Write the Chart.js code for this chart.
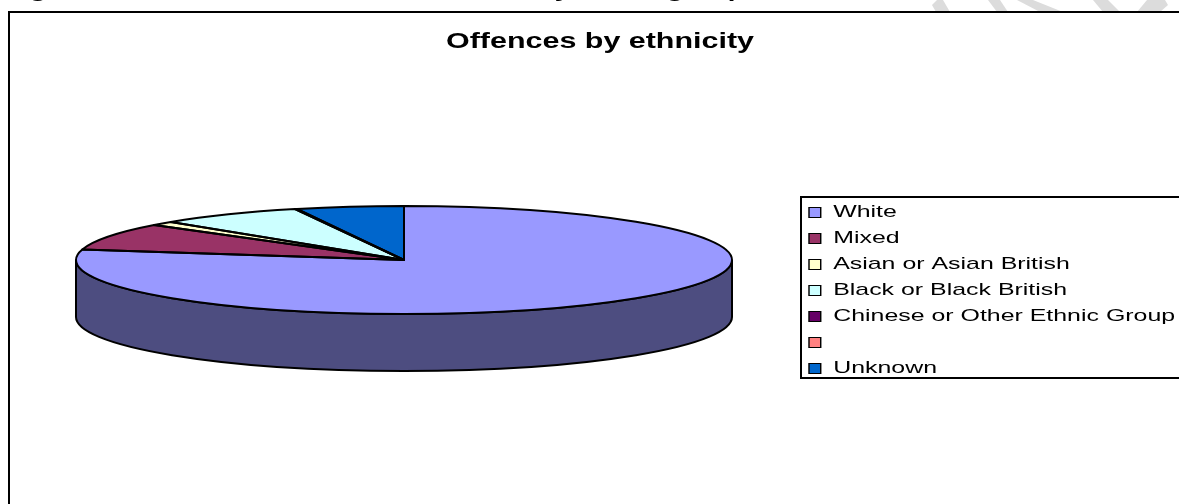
<!DOCTYPE html>
<html>
<head>
<meta charset="utf-8">
<title>Offences by ethnicity</title>
<script src="https://cdn.jsdelivr.net/npm/chart.js@4/dist/chart.umd.min.js"></script>
<style>
    html, body { margin:0; padding:0; background:#fff; overflow:hidden; }
    canvas { display:block; }
</style>
</head>
<body>
<canvas id="ethnicity_chart" width="1179" height="504"></canvas>
<script>
const labels = ["White", "Mixed", "Asian or Asian British", "Black or Black British", "Chinese or Other Ethnic Group", "", "Unknown"];
const offences = [78.2, 8.1, 1.2, 7.2, 0.1, 0, 5.3];
const colours = ["#9999FF", "#993366", "#FFFFCC", "#CCFFFF", "#660066", "#FF8080", "#0066CC"];

// the original is a stretched 3D pie, so the flat arcs get squashed to this ellipse
const pieX = 404, pieY = 260, pieRx = 328, pieRy = 54, pieDepth = 57;

// grey bits of a watermark showing above the frame
const watermark = [
    [[932,5],[937,0],[943,0],[950,12],[936,12]],
    [[988,0],[1000,0],[1008,12],[997,12]],
    [[1017,0],[1033,0],[1063,12],[1040,12]],
    [[1093,0],[1108,0],[1120,12],[1103,12]],
    [[1147,0],[1165,0],[1168,5],[1160,12],[1137,12]]
];

const pie3d = {
    id:"pie3d",
    afterLayout(chart){
        if (chart.stretched) return;
        chart.stretched = true;
        const ctx = chart.ctx;
        // text in the reference is wider than normal
        const legendDraw = chart.legend.draw;
        chart.legend.draw = function(){
            const first = this.legendHitBoxes[0];
            ctx.save();
            ctx.setTransform(1.465, 0, 0, 1, 809 - 1.465 * first.left, 212.5 - (first.top + first.height / 2));
            legendDraw.call(this);
            ctx.restore();
        };
        const titleDraw = chart.titleBlock.draw;
        chart.titleBlock.draw = function(){
            const mid = (this.left + this.right) / 2;
            ctx.save();
            ctx.setTransform(1.384, 0, 0, 1, 600 - 1.384 * mid, 0);
            titleDraw.call(this);
            ctx.restore();
        };
    },
    beforeDraw(chart){
        const ctx = chart.ctx;
        ctx.save();
        ctx.fillStyle = "#fff";
        ctx.fillRect(0, 0, chart.width, chart.height);
        ctx.fillStyle = "#DCDCDC";
        watermark.forEach(function(shape){
            ctx.beginPath();
            shape.forEach(function(p){ ctx.lineTo(p[0], p[1]); });
            ctx.fill();
        });
        // heading of the page, cut off by the top of the picture
        ctx.fillStyle = "#000";
        ctx.font = "bold 18px 'Liberation Sans'";
        ctx.textBaseline = "alphabetic";
        ctx.setTransform(1.53, 0, 0, 1, 0, 0);
        ctx.fillText("Figure", 5 / 1.53, -3);
        ctx.fillText("by ethnic group", 538 / 1.53, -3);
        ctx.setTransform(1, 0, 0, 1, 0, 0);
        // chart frame and legend frame, both run off the picture
        ctx.strokeStyle = "#000";
        ctx.lineWidth = 2;
        ctx.strokeRect(9, 12, 1300, 600);
        ctx.strokeRect(801, 197, 500, 181);
        ctx.restore();
    },
    beforeDatasetsDraw(chart){
        const ctx = chart.ctx;
        const arc = chart.getDatasetMeta(0).data[0];
        ctx.save();
        // side wall
        ctx.beginPath();
        ctx.moveTo(pieX - pieRx, pieY);
        ctx.lineTo(pieX - pieRx, pieY + pieDepth);
        ctx.ellipse(pieX, pieY + pieDepth, pieRx, pieRy, 0, Math.PI, 0, true);
        ctx.lineTo(pieX + pieRx, pieY);
        ctx.ellipse(pieX, pieY, pieRx, pieRy, 0, 0, Math.PI);
        ctx.closePath();
        ctx.fillStyle = "#4D4D80";
        ctx.fill();
        ctx.strokeStyle = "#000";
        ctx.lineWidth = 2;
        ctx.stroke();
        // squash the arcs about their own centre
        const k = pieRy / arc.outerRadius;
        ctx.setTransform(1, 0, 0, k, pieX - arc.x, pieY - arc.y * k);
    },
    afterDatasetsDraw(chart){
        const ctx = chart.ctx;
        ctx.restore();
        // outlines go here so the squash does not thin them out
        ctx.save();
        ctx.strokeStyle = "#000";
        ctx.lineWidth = 2;
        ctx.lineJoin = "round";
        chart.getDatasetMeta(0).data.forEach(function(arc){
            if (arc.circumference === 0) return;
            ctx.beginPath();
            ctx.moveTo(pieX, pieY);
            ctx.ellipse(pieX, pieY, pieRx, pieRy, 0, arc.startAngle, arc.endAngle);
            ctx.closePath();
            ctx.stroke();
        });
        ctx.restore();
    }
};

let ethnicity_chart = new Chart(document.getElementById("ethnicity_chart"), {
    type:"pie",
    plugins:[pie3d],
    data:{
        labels:labels,
        datasets:[
            {
                label:"Offences",
                data:offences,
                backgroundColor:colours,
                borderWidth:0,
                radius:pieRx,
                clip:false
            }
        ]
    },
    options:{
        responsive:false,
        animation:false,
        events:[],
        layout:{ padding:0 },
        plugins:{
            tooltip:{ enabled:false },
            title:{
                display:true,
                text:"Offences by ethnicity",
                color:"#000",
                padding:{ top:29, bottom:0 },
                font:{ family:"'Liberation Sans'", size:22, weight:"bold" }
            },
            legend:{
                position:"right",
                labels:{
                    color:"#000",
                    boxWidth:8,
                    boxHeight:10,
                    padding:9,
                    font:{ family:"'Liberation Sans'", size:17 },
                    generateLabels(chart){
                        return Chart.overrides.pie.plugins.legend.labels.generateLabels(chart).map(function(item){
                            item.strokeStyle = "#000";
                            item.lineWidth = 1;
                            return item;
                        });
                    }
                }
            }
        }
    }
});
</script>
</body>
</html>
